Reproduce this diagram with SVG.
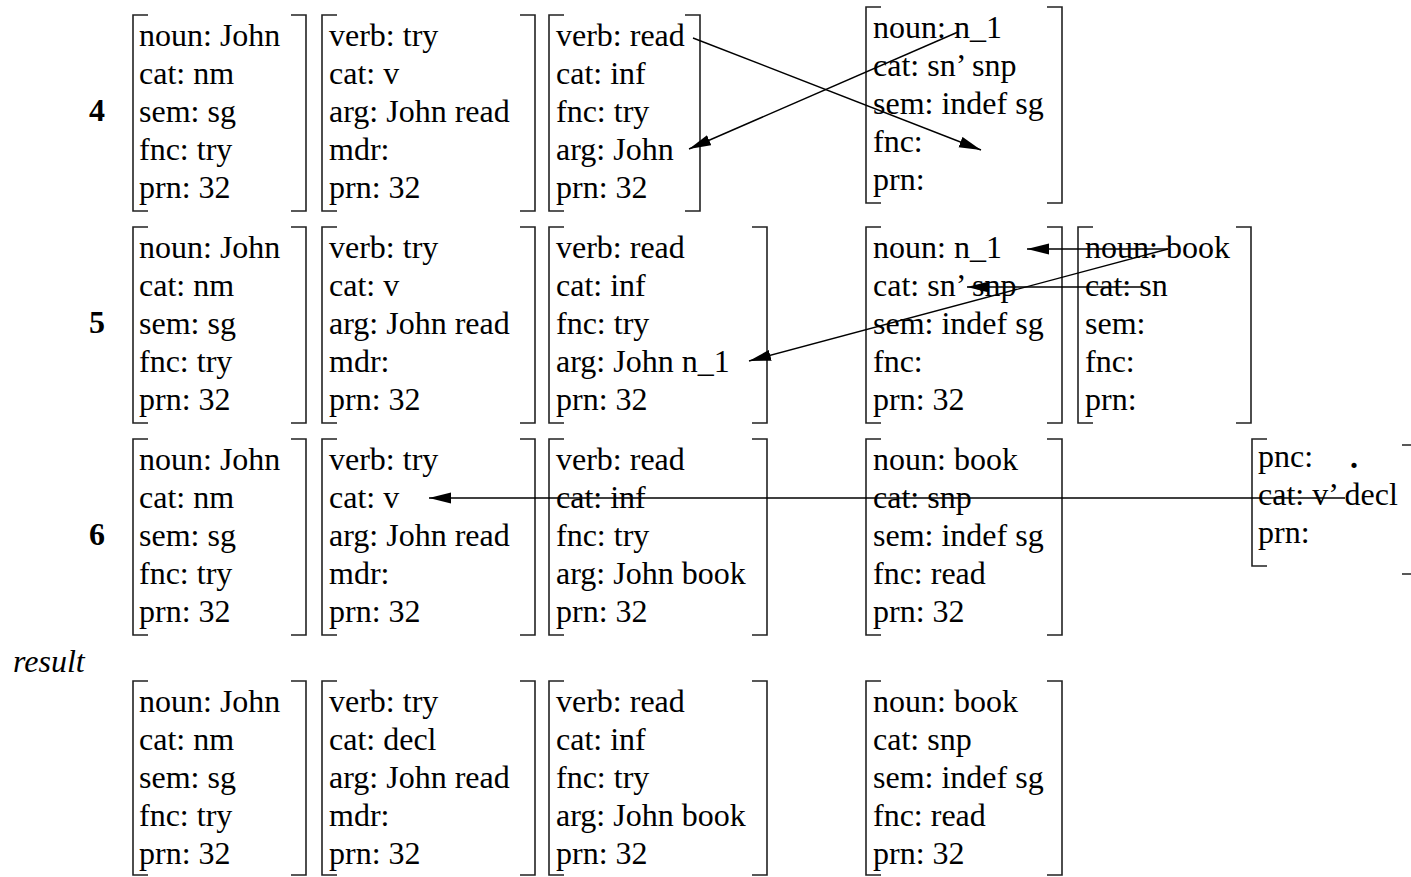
<svg xmlns="http://www.w3.org/2000/svg" width="1411" height="877" viewBox="0 0 1411 877">
<style>
text { font-family: "Liberation Serif", "Times New Roman", serif; font-size: 32px; fill: #000; }
.lbl { font-weight: bold; }
.it { font-style: italic; }
.br { fill: none; stroke: #222; stroke-width: 1.6; }
.cn { fill: none; stroke: #000; stroke-width: 1.4; marker-end: url(#ah); }
</style>
<defs>
<marker id="ah" markerUnits="userSpaceOnUse" markerWidth="23" markerHeight="12" refX="22" refY="5.5" orient="auto">
<path d="M0,0 L22,5.5 L0,11 Z" fill="#000"/>
</marker>
</defs>
<rect width="1411" height="877" fill="#fff"/>

<text class="lbl" x="89" y="121">4</text>
<text class="lbl" x="89" y="333">5</text>
<text class="lbl" x="89" y="545">6</text>
<text class="it" x="13" y="672">result</text>

<!-- Row 4 -->
<g id="r4c1" transform="translate(133,15)">
<path class="br" d="M15,0H0V196H15M158,0H173V196H158"/>
<text x="6" y="31">noun: John</text><text x="6" y="69">cat: nm</text><text x="6" y="107">sem: sg</text><text x="6" y="145">fnc: try</text><text x="6" y="183">prn: 32</text>
</g>
<g id="r4c2" transform="translate(322,15)">
<path class="br" d="M15,0H0V196H15M198,0H213V196H198"/>
<text x="7" y="31">verb: try</text><text x="7" y="69">cat: v</text><text x="7" y="107">arg: John read</text><text x="7" y="145">mdr:</text><text x="7" y="183">prn: 32</text>
</g>
<g id="r4c3" transform="translate(549,15)">
<path class="br" d="M15,0H0V196H15M136,0H151V196H136"/>
<text x="7" y="31">verb: read</text><text x="7" y="69">cat: inf</text><text x="7" y="107">fnc: try</text><text x="7" y="145">arg: John</text><text x="7" y="183">prn: 32</text>
</g>
<g id="r4c4" transform="translate(866,7)">
<path class="br" d="M15,0H0V196H15M181,0H196V196H181"/>
<text x="7" y="31">noun: n_1</text><text x="7" y="69">cat: sn’ snp</text><text x="7" y="107">sem: indef sg</text><text x="7" y="145">fnc:</text><text x="7" y="183">prn:</text>
</g>

<!-- Row 5 -->
<g id="r5c1" transform="translate(133,227)">
<path class="br" d="M15,0H0V196H15M158,0H173V196H158"/>
<text x="6" y="31">noun: John</text><text x="6" y="69">cat: nm</text><text x="6" y="107">sem: sg</text><text x="6" y="145">fnc: try</text><text x="6" y="183">prn: 32</text>
</g>
<g id="r5c2" transform="translate(322,227)">
<path class="br" d="M15,0H0V196H15M198,0H213V196H198"/>
<text x="7" y="31">verb: try</text><text x="7" y="69">cat: v</text><text x="7" y="107">arg: John read</text><text x="7" y="145">mdr:</text><text x="7" y="183">prn: 32</text>
</g>
<g id="r5c3" transform="translate(549,227)">
<path class="br" d="M15,0H0V196H15M203,0H218V196H203"/>
<text x="7" y="31">verb: read</text><text x="7" y="69">cat: inf</text><text x="7" y="107">fnc: try</text><text x="7" y="145">arg: John n_1</text><text x="7" y="183">prn: 32</text>
</g>
<g id="r5c4" transform="translate(866,227)">
<path class="br" d="M15,0H0V196H15M181,0H196V196H181"/>
<text x="7" y="31">noun: n_1</text><text x="7" y="69">cat: sn’ snp</text><text x="7" y="107">sem: indef sg</text><text x="7" y="145">fnc:</text><text x="7" y="183">prn: 32</text>
</g>
<g id="r5c5" transform="translate(1078,227)">
<path class="br" d="M15,0H0V196H15M158,0H173V196H158"/>
<text x="7" y="31">noun: book</text><text x="7" y="69">cat: sn</text><text x="7" y="107">sem:</text><text x="7" y="145">fnc:</text><text x="7" y="183">prn:</text>
</g>

<!-- Row 6 -->
<g id="r6c1" transform="translate(133,439)">
<path class="br" d="M15,0H0V196H15M158,0H173V196H158"/>
<text x="6" y="31">noun: John</text><text x="6" y="69">cat: nm</text><text x="6" y="107">sem: sg</text><text x="6" y="145">fnc: try</text><text x="6" y="183">prn: 32</text>
</g>
<g id="r6c2" transform="translate(322,439)">
<path class="br" d="M15,0H0V196H15M198,0H213V196H198"/>
<text x="7" y="31">verb: try</text><text x="7" y="69">cat: v</text><text x="7" y="107">arg: John read</text><text x="7" y="145">mdr:</text><text x="7" y="183">prn: 32</text>
</g>
<g id="r6c3" transform="translate(549,439)">
<path class="br" d="M15,0H0V196H15M203,0H218V196H203"/>
<text x="7" y="31">verb: read</text><text x="7" y="69">cat: inf</text><text x="7" y="107">fnc: try</text><text x="7" y="145">arg: John book</text><text x="7" y="183">prn: 32</text>
</g>
<g id="r6c4" transform="translate(866,439)">
<path class="br" d="M15,0H0V196H15M181,0H196V196H181"/>
<text x="7" y="31">noun: book</text><text x="7" y="69">cat: snp</text><text x="7" y="107">sem: indef sg</text><text x="7" y="145">fnc: read</text><text x="7" y="183">prn: 32</text>
</g>
<g id="r6pnc">
<path class="br" d="M1267,439H1252V566H1267M1402,445H1411M1402,574H1411"/>
<text x="1258" y="467">pnc:</text><text x="1350" y="468" style="font-weight:bold">.</text>
<text x="1258" y="505">cat: v’ decl</text><text x="1258" y="543">prn:</text>
</g>

<!-- Result -->
<g id="resc1" transform="translate(133,681)">
<path class="br" d="M15,0H0V194H15M158,0H173V194H158"/>
<text x="6" y="31">noun: John</text><text x="6" y="69">cat: nm</text><text x="6" y="107">sem: sg</text><text x="6" y="145">fnc: try</text><text x="6" y="183">prn: 32</text>
</g>
<g id="resc2" transform="translate(322,681)">
<path class="br" d="M15,0H0V194H15M198,0H213V194H198"/>
<text x="7" y="31">verb: try</text><text x="7" y="69">cat: decl</text><text x="7" y="107">arg: John read</text><text x="7" y="145">mdr:</text><text x="7" y="183">prn: 32</text>
</g>
<g id="resc3" transform="translate(549,681)">
<path class="br" d="M15,0H0V194H15M203,0H218V194H203"/>
<text x="7" y="31">verb: read</text><text x="7" y="69">cat: inf</text><text x="7" y="107">fnc: try</text><text x="7" y="145">arg: John book</text><text x="7" y="183">prn: 32</text>
</g>
<g id="resc4" transform="translate(866,681)">
<path class="br" d="M15,0H0V194H15M181,0H196V194H181"/>
<text x="7" y="31">noun: book</text><text x="7" y="69">cat: snp</text><text x="7" y="107">sem: indef sg</text><text x="7" y="145">fnc: read</text><text x="7" y="183">prn: 32</text>
</g>

<g id="connectors">
<path class="cn" d="M693,38L981,150"/>
<path class="cn" d="M958,32L689,149"/>
<path class="cn" d="M1168,249L1027,249"/>
<path class="cn" d="M1142,287L967,287"/>
<path class="cn" d="M1168,249L749,361"/>
<path class="cn" d="M1345,498L429,498"/>
</g>
</svg>
